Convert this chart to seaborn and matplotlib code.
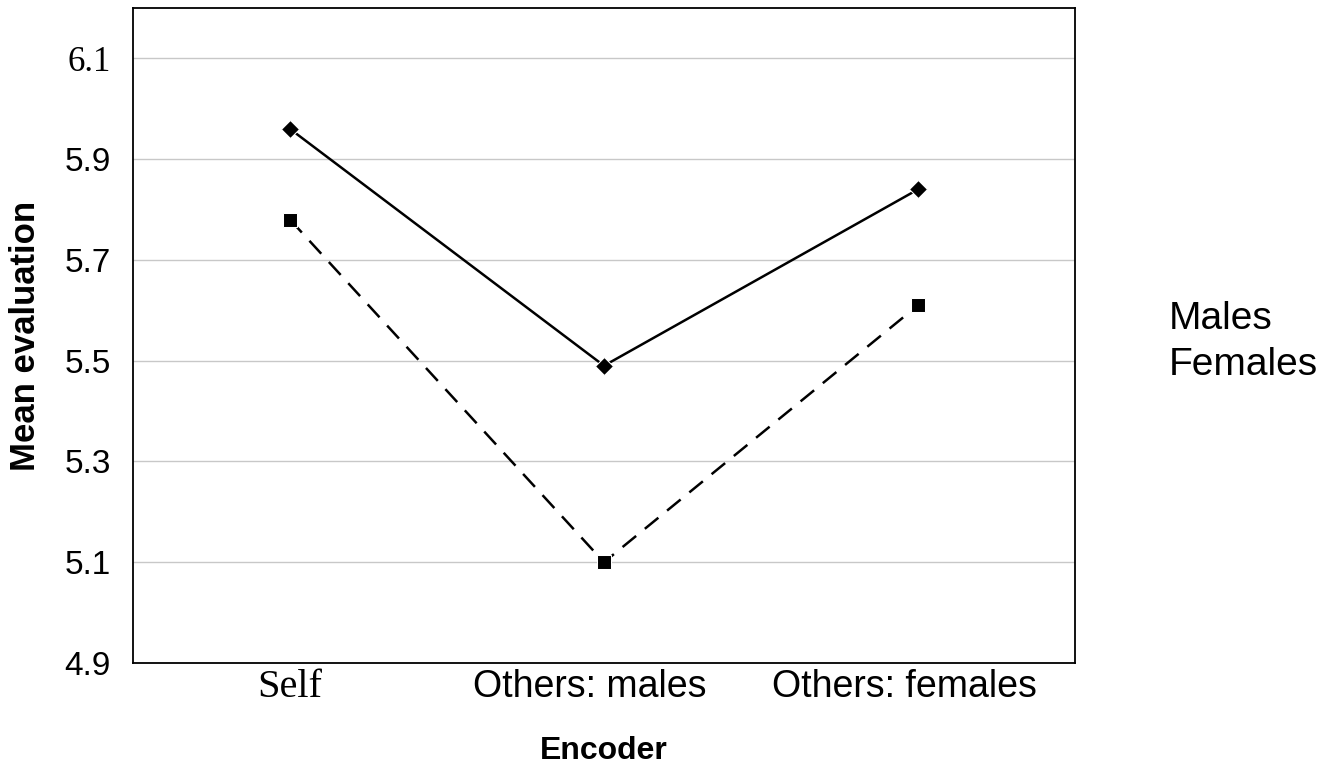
import pandas as pd
import matplotlib.pyplot as plt
import matplotlib.transforms as mtransforms
import seaborn as sns

# chart values
encoders = ['Self', 'Others: males', 'Others: females']
males = [5.96, 5.49, 5.84]
females = [5.78, 5.10, 5.61]
yticks = [4.9, 5.1, 5.3, 5.5, 5.7, 5.9, 6.1]

df = pd.DataFrame({
    'Encoder': encoders * 2,
    'Mean evaluation': males + females,
    'Group': ['Males'] * 3 + ['Females'] * 3,
})

sns.set_style('white')
plt.rcParams['font.family'] = ['Liberation Sans', 'DejaVu Sans']
plt.rcParams['text.color'] = 'black'
plt.rcParams['axes.labelcolor'] = 'black'
plt.rcParams['xtick.color'] = 'black'
plt.rcParams['ytick.color'] = 'black'

fig = plt.figure(figsize=(13.33, 7.8), dpi=100)
ax = fig.add_axes([133 / 1333, 1 - 663 / 780, 942 / 1333, 655 / 780])

sns.lineplot(data=df, x='Encoder', y='Mean evaluation', hue='Group', style='Group',
             palette={'Males': 'black', 'Females': 'black'},
             markers={'Males': 'D', 'Females': 's'},
             dashes={'Males': '', 'Females': (7, 4.5)},
             markersize=10, linewidth=1.8, ax=ax, sort=False)
for ln in ax.lines:
    if ln.get_marker() == 'D':
        ln.set_markersize(9)

ax.set_xlim(-0.5, 2.5)
ax.set_ylim(4.9, 6.2)
ax.set_yticks(yticks)
ax.set_yticklabels([f'{v:.1f}' for v in yticks])
ax.yaxis.grid(True, color='#c8c8c8', linewidth=1)
ax.set_axisbelow(True)
ax.tick_params(axis='y', length=7, color='#c8c8c8', labelsize=24, pad=9,
               labelcolor='black')
ax.tick_params(axis='x', length=0, labelsize=27, pad=4, labelcolor='black')
ax.set_xticks([0, 1, 2])
ax.set_xticklabels(encoders)
ax.set_xticks([0.5, 1.5], minor=True)
ax.tick_params(axis='x', which='minor', length=6, color='#bbbbbb')

for lab in ax.get_yticklabels():
    if lab.get_text() == '6.1':
        lab.set_fontfamily('Liberation Serif')
        lab.set_fontsize(25)
# the "Others" labels sit a little left of their category in the original
shift = mtransforms.ScaledTranslation(-14 / 100, 0, fig.dpi_scale_trans)
for lab in ax.get_xticklabels():
    if lab.get_text() == 'Self':
        lab.set_fontfamily('Liberation Serif')
        lab.set_fontsize(29)
    else:
        lab.set_transform(lab.get_transform() + shift)

for s in ax.spines.values():
    s.set_visible(True)
    s.set_color('black')
    s.set_linewidth(1.3)

ax.set_xlabel('Encoder', fontsize=23, fontweight='bold', labelpad=22)
ax.set_ylabel('Mean evaluation', fontsize=25, fontweight='bold', labelpad=16)

leg = ax.legend(frameon=False, loc='center left', bbox_to_anchor=(1.062, 0.49),
                handlelength=0, handletextpad=0, fontsize=28, labelspacing=0.25)
for h in leg.legend_handles:
    h.set_visible(False)

fig.savefig('out.png', dpi=100, facecolor='white')
